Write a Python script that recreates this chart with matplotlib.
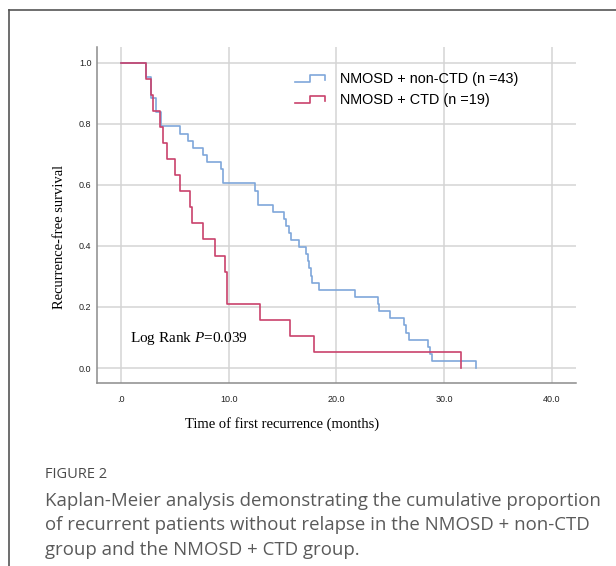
import matplotlib
matplotlib.use("Agg")
import matplotlib.pyplot as plt
from matplotlib.lines import Line2D
from matplotlib.legend_handler import HandlerBase

# --- Kaplan-Meier steps ---
non_ctd_time = [0, 2.33, 2.75, 3.26, 3.72, 5.5, 6.26, 6.73, 7.6, 8.03, 9.27, 9.46, 12.4, 12.7,
                14.1, 15.1, 15.35, 15.57, 15.8, 16.5, 17.2, 17.35, 17.5, 17.6, 17.7, 18.35, 21.7,
                23.9, 24.0, 25.0, 26.3, 26.5, 26.7, 28.5, 28.7, 28.9, 33.0]
non_ctd_surv = [1.0, 0.953, 0.884, 0.837, 0.791, 0.767, 0.744, 0.721, 0.698, 0.674, 0.651, 0.605,
                0.581, 0.535, 0.512, 0.488, 0.465, 0.442, 0.419, 0.395, 0.372, 0.349, 0.326, 0.302,
                0.279, 0.256, 0.233, 0.209, 0.186, 0.163, 0.140, 0.116, 0.093, 0.070, 0.047, 0.023, 0.0]

ctd_time = [0, 2.3, 2.8, 2.95, 3.6, 3.9, 4.25, 5.0, 5.5, 6.42, 6.57, 7.6, 8.75, 9.7, 9.83,
            12.9, 15.65, 17.9, 31.6]
ctd_surv = [1.0, 0.947, 0.895, 0.842, 0.789, 0.737, 0.684, 0.632, 0.579, 0.526, 0.474, 0.421,
            0.368, 0.316, 0.211, 0.158, 0.105, 0.053, 0.0]

labels = ["NMOSD + non-CTD (n =43)", "NMOSD + CTD (n =19)"]
x_ticks = [0, 10, 20, 30, 40]
x_tick_labels = [".0", "10.0", "20.0", "30.0", "40.0"]
y_ticks = [0.0, 0.2, 0.4, 0.6, 0.8, 1.0]
y_tick_labels = ["0.0", "0.2", "0.4", "0.6", "0.8", "1.0"]

blue = "#7fa7da"
red = "#c9426c"

plt.rcParams['mathtext.fontset'] = 'custom'
plt.rcParams['mathtext.rm'] = 'Liberation Serif'
plt.rcParams['mathtext.it'] = 'Liberation Serif:italic'

W, H = 616, 566


class StepHandler(HandlerBase):
    # legend glyph shaped like a small survival step
    def create_artists(self, legend, orig_handle, xdescent, ydescent, width, height, fontsize, trans):
        x0, y0 = -xdescent, -ydescent
        xs = [x0, x0 + 0.5 * width, x0 + 0.5 * width, x0 + width, x0 + width]
        ys = [y0 + 0.15 * height, y0 + 0.15 * height, y0 + 0.85 * height, y0 + 0.85 * height, y0 + 0.3 * height]
        ln = Line2D(xs, ys, color=orig_handle.get_color(), lw=orig_handle.get_linewidth(), transform=trans)
        return [ln]


fig = plt.figure(figsize=(W / 100, H / 100), dpi=100)
ax = fig.add_axes([97 / W, 1 - 383 / H, (576 - 97) / W, (383 - 47) / H])

l1, = ax.step(non_ctd_time, non_ctd_surv, where='post', color=blue, lw=1.2)
l2, = ax.step(ctd_time, ctd_surv, where='post', color=red, lw=1.2)

ax.set_xlim(-2.23, 42.25)
ax.set_ylim(-0.049, 1.051)
ax.set_xticks(x_ticks)
ax.set_xticklabels(x_tick_labels)
ax.set_yticks(y_ticks)
ax.set_yticklabels(y_tick_labels)
ax.tick_params(length=0, labelsize=6.5, labelcolor='#222222')
ax.tick_params(axis='x', pad=9)
ax.tick_params(axis='y', pad=4)
for lab in ax.get_xticklabels() + ax.get_yticklabels():
    lab.set_family('Liberation Sans')

ax.grid(True, color='#d4d4d4', lw=1.1)
ax.set_axisbelow(True)
for s in ['top', 'right']:
    ax.spines[s].set_visible(False)
for s in ['left', 'bottom']:
    ax.spines[s].set_color('#8c8c8c')
    ax.spines[s].set_linewidth(1.1)

ax.text(0.8, 0.098, r"Log Rank $P$=0.039", family='Liberation Serif', fontsize=11, va='center')

ax.legend([l1, l2], labels, handler_map={Line2D: StepHandler()}, loc='upper left',
          bbox_to_anchor=(0.413, 0.925), frameon=False, borderpad=0, borderaxespad=0,
          handlelength=2.1, handletextpad=1.0, labelspacing=0.5,
          prop={'family': 'Liberation Sans', 'size': 10.4})

fig.text(282 / W, 1 - 424 / H, "Time of first recurrence (months)", family='Liberation Serif',
         fontsize=10.5, ha='center', va='center')
fig.text(60 / W, 1 - 237 / H, "Recurrence-free survival", family='Liberation Serif',
         fontsize=10.5, ha='center', va='center', rotation=90)

# outer frame (left and top only)
fig.add_artist(Line2D([9 / W, 9 / W], [0, 1 - 10 / H], transform=fig.transFigure, color='#555555', lw=1.2))
fig.add_artist(Line2D([9 / W, 1], [1 - 10 / H, 1 - 10 / H], transform=fig.transFigure, color='#555555', lw=1.2))

fig.text(45 / W, 1 - 474 / H, "FIGURE 2", family='Open Sans', fontsize=10.5, color='#4a4a4a', va='center')
caption = ["Kaplan-Meier analysis demonstrating the cumulative proportion",
           "of recurrent patients without relapse in the NMOSD + non-CTD",
           "group and the NMOSD + CTD group."]
for i, line in enumerate(caption):
    fig.text(45 / W, 1 - (501 + 24.5 * i) / H, line, family='Open Sans', fontsize=13.4,
             color='#5a5a5a', va='center')

fig.savefig("out.png", dpi=100)
